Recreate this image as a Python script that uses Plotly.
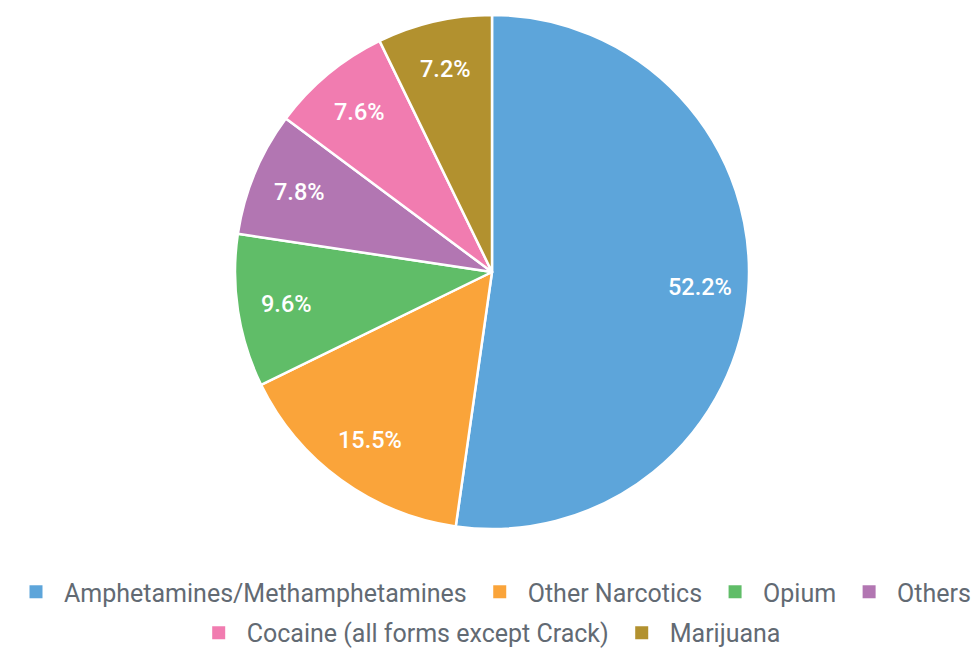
import math
import plotly.graph_objects as go

labels = ["Amphetamines/Methamphetamines", "Other Narcotics", "Opium", "Others",
          "Cocaine (all forms except Crack)", "Marijuana"]
values = [52.2, 15.5, 9.6, 7.8, 7.6, 7.2]
colors = ["#5DA5DA", "#FAA43A", "#60BD68", "#B276B2", "#F17CB0", "#B2912F"]
legend_rows = ["legend", "legend", "legend", "legend", "legend2", "legend2"]

W, H = 980, 650
m_l, m_r, m_t, m_b = 0, 0, 7, 129
plot_w = W - m_l - m_r
plot_h = H - m_t - m_b
pie_dom_x = [0, 968 / plot_w]

fig = go.Figure()
fig.add_trace(go.Pie(
    labels=labels,
    values=values,
    sort=False,
    direction="clockwise",
    rotation=0,
    domain=dict(x=pie_dom_x, y=[0, 1]),
    marker=dict(colors=colors, line=dict(color="white", width=2.5)),
    textinfo="none",
    hoverinfo="label+value",
    showlegend=False,
))

# percentage labels placed out toward the rim, like the original
radius = min(plot_h, (pie_dom_x[1] - pie_dom_x[0]) * plot_w) / 2
cx = (pie_dom_x[0] + pie_dom_x[1]) / 2
cy = 0.5
total = sum(values)
cum = 0
for v in values:
    a = 2 * math.pi * (cum + v / 2) / total
    cum += v
    rr = radius * 0.81
    fig.add_annotation(
        x=cx + rr * math.sin(a) / plot_w, y=cy + rr * math.cos(a) / plot_h,
        xref="paper", yref="paper", xanchor="center", yanchor="middle",
        text=f"{v:.1f}%", showarrow=False,
        font=dict(family="Roboto", size=23.5, color="white", weight=500),
    )

# legend entries (two centered rows like the original)
for lab, col, lg in zip(labels, colors, legend_rows):
    fig.add_trace(go.Scatter(
        x=[None], y=[None], mode="markers", name=lab, legend=lg,
        marker=dict(symbol="square", size=13, color=col, line=dict(width=0)),
    ))

leg_font = dict(family="Roboto", size=25, color="#626a73")
fig.update_layout(
    width=W, height=H,
    margin=dict(l=m_l, r=m_r, t=m_t, b=m_b),
    paper_bgcolor="white",
    plot_bgcolor="white",
    font=dict(family="Roboto", color="#626a73"),
    xaxis=dict(visible=False),
    yaxis=dict(visible=False),
    legend=dict(orientation="h", x=0.487, xanchor="center", y=-0.1226, yanchor="middle",
                font=leg_font, itemwidth=46, bgcolor="rgba(0,0,0,0)"),
    legend2=dict(orientation="h", x=0.49, xanchor="center", y=-0.2023, yanchor="middle",
                 font=leg_font, itemwidth=46, bgcolor="rgba(0,0,0,0)"),
)

fig.write_html("out.html")
